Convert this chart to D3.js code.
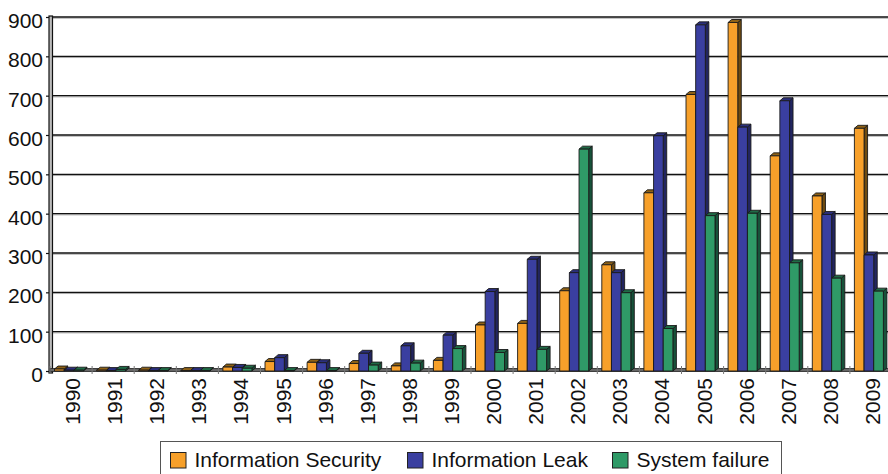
<!DOCTYPE html>
<html>
<head>
<meta charset="utf-8">
<script src="https://cdn.jsdelivr.net/npm/d3@7"></script>
<style>
  html, body { margin: 0; padding: 0; background: #fff; }
  svg { display: block; }
  text { font-family: "Liberation Sans", Arial, Helvetica, sans-serif; fill: #111; }
</style>
</head>
<body>
<svg id="chart" width="888" height="474"></svg>
<script>
const years = ["1990","1991","1992","1993","1994","1995","1996","1997","1998","1999",
               "2000","2001","2002","2003","2004","2005","2006","2007","2008","2009"];
const seriesNames = ["Information Security", "Information Leak", "System failure"];
const infoSecurity = [5, 2, 2, 1, 10, 24, 22, 19, 13, 27, 117, 121, 204, 270, 453, 703, 886, 547, 445, 617];
const infoLeak     = [2, 1, 1, 1, 9, 34, 21, 45, 64, 91, 202, 284, 250, 250, 598, 880, 620, 687, 398, 295];
const sysFailure   = [2, 4, 1, 1, 7, 1, 1, 15, 20, 57, 47, 55, 564, 199, 108, 395, 401, 275, 236, 203];
const yTicks = [0, 100, 200, 300, 400, 500, 600, 700, 800, 900];

const seriesValues = [infoSecurity, infoLeak, sysFailure];
const colors = [
  { front: "#F7A02A", top: "#8E6116", side: "#6F4B10" },
  { front: "#3A3FA0", top: "#2B2F7C", side: "#22255F" },
  { front: "#2F9A67", top: "#1F6B46", side: "#17523A" }
];

const svg = d3.select("#chart");
const x0 = 50, x1 = 892, yTop = 17, yBase = 371;
const depthX = 3.5, depthY = 3;

const x = d3.scaleBand().domain(years).range([x0, x1]).padding(0);
const xs = d3.scaleBand().domain(seriesNames).range([0, 29]).padding(0);
const y = d3.scaleLinear().domain([0, 900]).range([yBase, yTop]);

// gridlines
const grid = svg.append("g");
yTicks.filter(t => t > 0).forEach(t => {
  grid.append("line").attr("x1", 52).attr("x2", 888).attr("y1", y(t) + 1.2).attr("y2", y(t) + 1.2)
    .attr("stroke", "#aaa").attr("stroke-width", 1);
  grid.append("line").attr("x1", 52).attr("x2", 888).attr("y1", y(t)).attr("y2", y(t))
    .attr("stroke", "#111").attr("stroke-width", 1.4);
});

// y axis labels and ticks
const yAxis = d3.axisLeft(y).tickValues(yTicks).tickSize(4).tickPadding(3).tickFormat(d3.format("d"));
const ya = svg.append("g").attr("transform", `translate(${x0},0)`).call(yAxis);
ya.select(".domain").remove();
ya.selectAll(".tick line").attr("stroke", "#111").attr("stroke-width", 1.2);
ya.selectAll(".tick text").attr("font-size", 21).attr("dy", "0.5em")
  .attr("font-family", "Liberation Sans, Arial, sans-serif").attr("fill", "#111");

// wall edge (double vertical line)
svg.append("rect").attr("x", 49).attr("y", yTop - 1).attr("width", 3.5).attr("height", yBase - yTop + 3)
  .attr("fill", "#bbb").attr("stroke", "#111").attr("stroke-width", 1.2);

// floor
svg.append("rect").attr("x", 50).attr("y", yBase - 2.5).attr("width", 840).attr("height", 3)
  .attr("fill", "#666").attr("stroke", "#222").attr("stroke-width", 0.8);
years.forEach(yr => {
  const bx = x(yr);
  svg.append("line").attr("x1", bx).attr("x2", bx).attr("y1", yBase - 5).attr("y2", yBase + 3)
    .attr("stroke", "#777").attr("stroke-width", 1);
});

// bars (3D)
const bars = svg.append("g");
years.forEach((yr, i) => {
  seriesNames.forEach((s, j) => {
    const v = seriesValues[j][i];
    const bx = x(yr) + 4.5 + xs(s);
    const w = xs.bandwidth();
    const ty = y(v);
    const c = colors[j];
    const g = bars.append("g").attr("stroke", "#1a1a1a").attr("stroke-width", 0.9).attr("stroke-linejoin", "round");
    // side
    g.append("polygon").attr("points", [
      [bx + w, ty], [bx + w + depthX, ty - depthY], [bx + w + depthX, yBase - depthY], [bx + w, yBase]
    ].map(p => p.join(",")).join(" ")).attr("fill", c.side);
    // top
    g.append("polygon").attr("points", [
      [bx, ty], [bx + depthX, ty - depthY], [bx + w + depthX, ty - depthY], [bx + w, ty]
    ].map(p => p.join(",")).join(" ")).attr("fill", c.top);
    // front
    g.append("rect").attr("x", bx).attr("y", ty).attr("width", w).attr("height", Math.max(0, yBase - ty))
      .attr("fill", c.front);
  });
});

// x labels
const xl = svg.append("g");
years.forEach(yr => {
  const cx = x(yr) + x.bandwidth() / 2 + 1.5;
  xl.append("text").attr("transform", `translate(${cx},378) rotate(-90)`)
    .attr("text-anchor", "end").attr("dominant-baseline", "central")
    .attr("font-size", 21).text(yr);
});

// legend
const legend = svg.append("g");
legend.append("rect").attr("x", 160.5).attr("y", 441.5).attr("width", 621).attr("height", 40)
  .attr("fill", "#fff").attr("stroke", "#555").attr("stroke-width", 1);
const legendX = [170, 407, 612];
seriesNames.forEach((s, j) => {
  legend.append("rect").attr("x", legendX[j] + 0.5).attr("y", 452.5).attr("width", 15.5).attr("height", 15.5)
    .attr("fill", colors[j].front).attr("stroke", "#222").attr("stroke-width", 1);
  legend.append("text").attr("x", legendX[j] + 24.5).attr("y", 466.5).attr("font-size", 21).text(s);
});
</script>
</body>
</html>
